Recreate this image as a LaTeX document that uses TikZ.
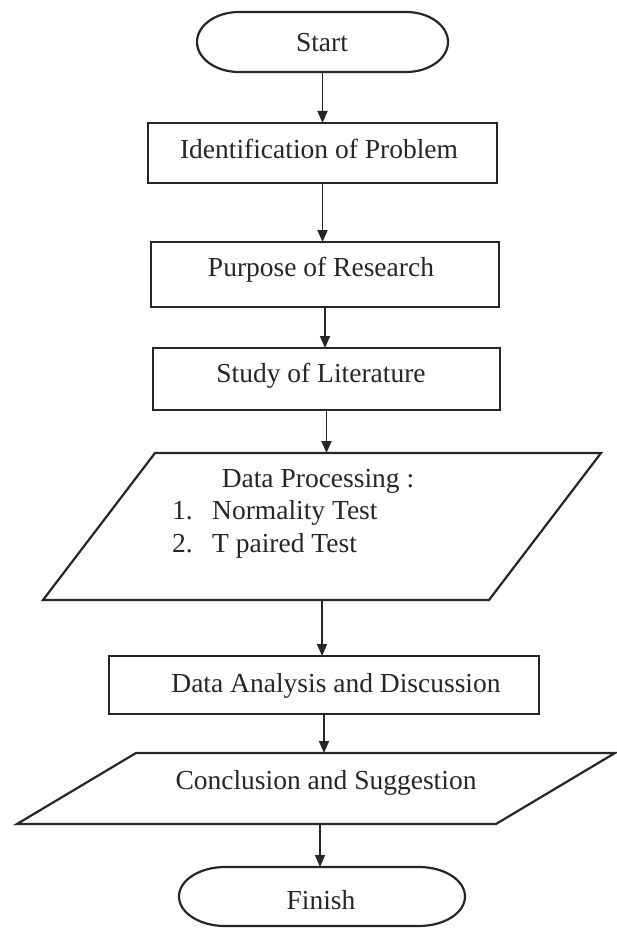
\documentclass[tikz,border=0pt]{standalone}
\usepackage{fontspec}
\setmainfont{Liberation Serif}
\usetikzlibrary{arrows.meta,calc}
\begin{document}
\begin{tikzpicture}[x=1pt,y=-1pt,
  outline/.style={draw=black!85, line width=2.2pt},
  procbox/.style={outline, inner sep=0pt, outer sep=0pt},
  frame/.style={draw=none, inner sep=0pt, outer sep=0pt},
  lbl/.style={font=\fontsize{27.5}{33}\selectfont, text=black!85, inner sep=0pt, anchor=base},
  arr/.style={draw=black!85, line width=1.8pt, -{Triangle[length=12pt,width=10pt]}}
]
\useasboundingbox (0,0) rectangle (616,928);

% terminators (drawn below with elliptic ends)
\node[frame, minimum width=251pt, minimum height=60pt] (start)  at (322.5,42) {};
\node[frame, minimum width=286pt, minimum height=59pt] (finish) at (322,896.5) {};

% process boxes
\node[procbox, minimum width=349pt, minimum height=60pt] (ident)    at (322.5,153) {};
\node[procbox, minimum width=348pt, minimum height=65pt] (purpose)  at (325,274.5) {};
\node[procbox, minimum width=347pt, minimum height=62pt] (study)    at (326.5,379) {};
\node[procbox, minimum width=430pt, minimum height=58pt] (analysis) at (324,685) {};

% input/output frames (parallelograms drawn below)
\node[frame, minimum width=558pt, minimum height=147pt] (dproc) at (322,526.5) {};
\node[frame, minimum width=598pt, minimum height=71pt]  (concl) at (316,788.5) {};

% terminator outlines
\foreach \t/\rx/\ry in {start/42/30, finish/46/29.5}{
  \draw[outline] ([xshift=\rx pt]\t.north west) -- ([xshift=-\rx pt]\t.north east)
    arc[start angle=90, end angle=-90, x radius=\rx pt, y radius=\ry pt]
    -- ([xshift=\rx pt]\t.south west)
    arc[start angle=270, end angle=90, x radius=\rx pt, y radius=\ry pt] -- cycle;
}

% parallelogram outlines
\draw[outline] ([xshift=112pt]dproc.north west) -- (dproc.north east)
  -- ([xshift=-112pt]dproc.south east) -- (dproc.south west) -- cycle;
\draw[outline] ([xshift=119pt]concl.north west) -- (concl.north east)
  -- ([xshift=-119pt]concl.south east) -- (concl.south west) -- cycle;

% texts
\node[lbl] (starttxt)    at (322,52)  {Start};
\node[lbl] (identtxt)    at (319,159) {Identification of Problem};
\node[lbl] (purposetxt)  at (321,276) {Purpose of Research};
\node[lbl] (studytxt)    at (321,382) {Study of Literature};
\node[lbl] (dproctxt)    at (318,487) {Data Processing :};
\node[lbl, anchor=base west] (dprocone) at (172,519) {\makebox[40pt][l]{1.}Normality Test};
\node[lbl, anchor=base west] (dproctwo) at (172,552) {\makebox[40pt][l]{2.}T paired Test};
\node[lbl] (analysistxt) at (336,692) {Data Analysis and Discussion};
\node[lbl] (concltxt)    at (326,789) {Conclusion and Suggestion};
\node[lbl] (finishtxt)   at (321,909) {Finish};

% connectors
\draw[arr] (start.south)    -- (start.south |- ident.north);
\draw[arr] (ident.south)    -- (ident.south |- purpose.north);
\draw[arr] (purpose.south)  -- (purpose.south |- study.north);
\draw[arr] (study.south)    -- (study.south |- dproc.north);
\draw[arr] (dproc.south)    -- (dproc.south |- analysis.north);
\draw[arr] (analysis.south) -- (analysis.south |- concl.north);
\draw[arr] ([xshift=4pt]concl.south) -- ([xshift=4pt]concl.south |- finish.north);
\end{tikzpicture}
\end{document}
